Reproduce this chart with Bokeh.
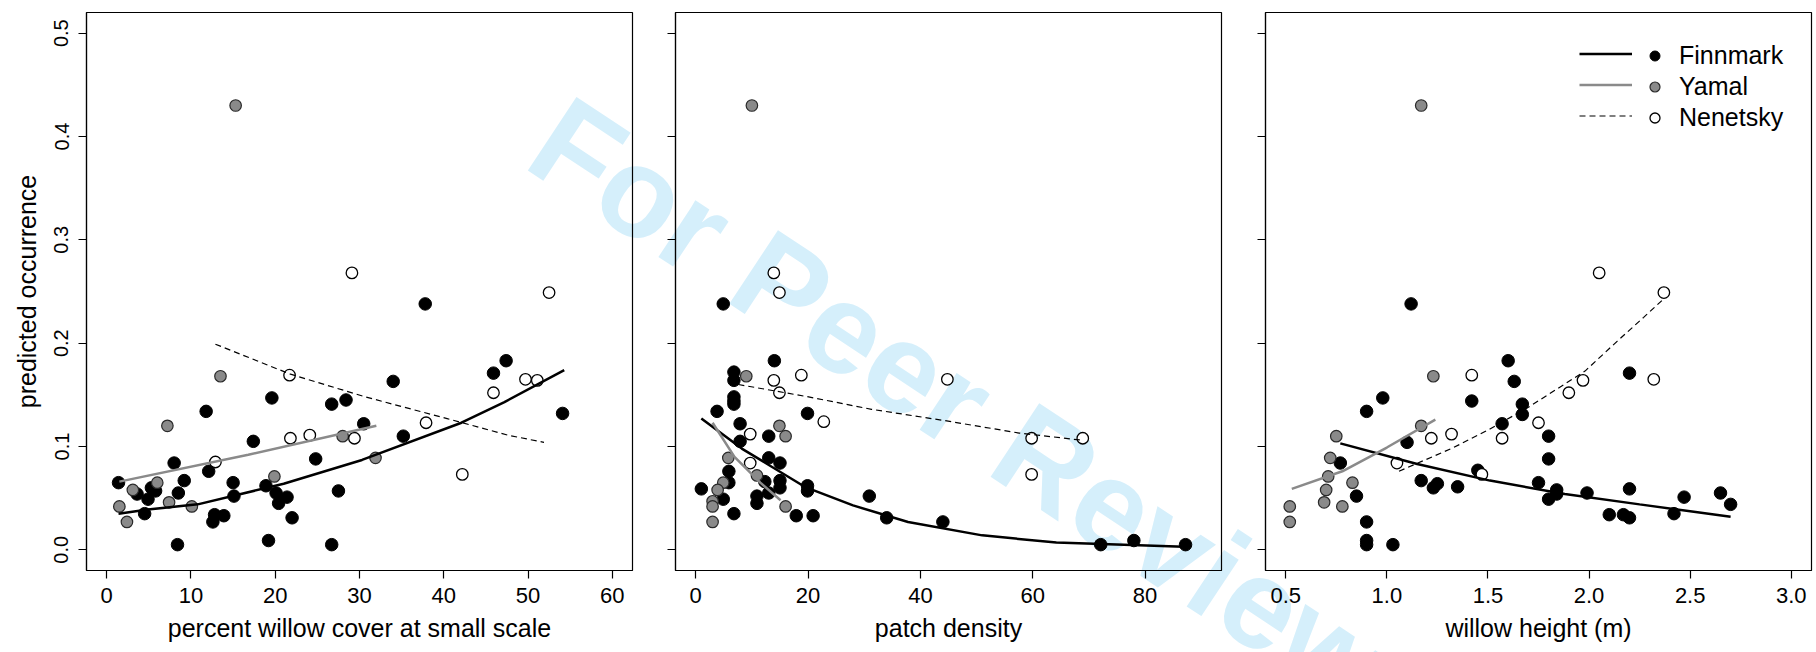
from bokeh.plotting import figure
from bokeh.models import Range1d, FixedTicker, NumeralTickFormatter, Legend, LegendItem, Div
from bokeh.layouts import row
from bokeh.embed import file_html
from bokeh.resources import INLINE

# ---------------- data ----------------
# panel 1: percent willow cover at small scale
fin_cover = [37.8, 47.4, 45.9, 34.0, 19.6, 26.7, 28.4, 11.8, 54.1, 30.5, 35.2, 17.4, 24.8, 8.0, 12.1, 1.4,
             9.2, 15.0, 5.3, 5.8, 3.6, 4.9, 8.5, 15.1, 18.9, 20.1, 21.4, 20.4, 27.5, 4.5, 12.8, 13.9, 12.6,
             22.0, 8.4, 19.2, 26.7]
fin_cover_occ = [0.238, 0.183, 0.171, 0.163, 0.147, 0.141, 0.145, 0.134, 0.132, 0.122, 0.110, 0.105, 0.088,
                 0.084, 0.076, 0.065, 0.067, 0.065, 0.060, 0.057, 0.054, 0.049, 0.055, 0.052, 0.062, 0.055,
                 0.051, 0.045, 0.057, 0.035, 0.034, 0.033, 0.027, 0.031, 0.005, 0.009, 0.005]
yam_cover = [15.3, 13.5, 7.2, 28.0, 31.9, 19.9, 6.0, 3.1, 7.4, 1.5, 10.1, 2.4]
yam_cover_occ = [0.430, 0.168, 0.120, 0.110, 0.089, 0.071, 0.065, 0.058, 0.046, 0.042, 0.042, 0.027]
nen_cover = [29.1, 52.5, 21.7, 49.7, 51.1, 45.9, 37.9, 24.1, 21.8, 29.4, 12.9, 42.2]
nen_cover_occ = [0.268, 0.249, 0.169, 0.165, 0.164, 0.152, 0.123, 0.111, 0.108, 0.108, 0.085, 0.073]

fin_cover_fit_x = [1.4, 4.9, 10.8, 21.0, 30.3, 42.1, 47.2, 54.3]
fin_cover_fit_y = [0.035, 0.039, 0.044, 0.064, 0.087, 0.123, 0.143, 0.174]
yam_cover_fit_x = [1.5, 16.8, 32.0]
yam_cover_fit_y = [0.066, 0.092, 0.120]
nen_cover_fit_x = [12.9, 21.8, 30.7, 40.4, 47.6, 51.9]
nen_cover_fit_y = [0.199, 0.170, 0.148, 0.127, 0.111, 0.104]

# panel 2: patch density
fin_dens = [4.9, 14.0, 6.8, 6.8, 6.8, 6.8, 6.8, 3.8, 19.9, 7.9, 13.0, 7.9, 13.0, 15.0, 5.9, 15.0, 1.0, 5.9,
            12.3, 15.0, 19.9, 19.9, 4.9, 10.9, 10.9, 13.0, 30.9, 6.8, 17.9, 20.9, 34.0, 44.0, 72.1, 78.0, 87.2]
fin_dens_occ = [0.238, 0.183, 0.172, 0.164, 0.148, 0.144, 0.141, 0.134, 0.132, 0.122, 0.110, 0.105, 0.089,
                0.084, 0.076, 0.067, 0.059, 0.065, 0.066, 0.060, 0.062, 0.057, 0.049, 0.052, 0.045, 0.055,
                0.052, 0.035, 0.033, 0.033, 0.031, 0.027, 0.005, 0.009, 0.005]
yam_dens = [10.0, 9.0, 14.9, 16.0, 5.8, 10.9, 4.9, 3.9, 3.0, 3.0, 16.0, 3.0]
yam_dens_occ = [0.430, 0.168, 0.120, 0.110, 0.089, 0.072, 0.065, 0.058, 0.047, 0.042, 0.042, 0.027]
nen_dens = [13.9, 14.9, 18.8, 44.8, 13.9, 14.9, 22.8, 9.7, 59.8, 68.9, 9.7, 59.8]
nen_dens_occ = [0.268, 0.249, 0.169, 0.165, 0.164, 0.152, 0.124, 0.112, 0.108, 0.108, 0.084, 0.073]

fin_dens_fit_x = [1.0, 8.2, 19.4, 28.0, 37.8, 51.0, 64.2, 86.9]
fin_dens_fit_y = [0.127, 0.098, 0.061, 0.043, 0.027, 0.014, 0.007, 0.003]
yam_dens_fit_x = [3.0, 6.9, 11.5, 15.1]
yam_dens_fit_y = [0.123, 0.090, 0.065, 0.048]
nen_dens_fit_x = [7.6, 20.1, 31.3, 44.4, 57.6, 68.9]
nen_dens_fit_y = [0.160, 0.148, 0.136, 0.125, 0.113, 0.106]

# panel 3: willow height (m)
fin_height = [1.12, 1.60, 2.20, 1.63, 0.98, 1.42, 0.90, 1.67, 1.67, 1.57, 1.80, 1.10, 1.80, 0.77, 1.45, 1.17,
              1.23, 1.25, 1.35, 1.75, 1.84, 1.84, 1.80, 1.99, 2.20, 2.47, 2.65, 2.70, 0.85, 2.10, 2.17, 2.20,
              2.42, 0.90, 0.90, 0.90, 1.03]
fin_height_occ = [0.238, 0.183, 0.171, 0.163, 0.147, 0.144, 0.134, 0.141, 0.131, 0.122, 0.110, 0.104, 0.088,
                  0.084, 0.077, 0.067, 0.060, 0.064, 0.061, 0.065, 0.058, 0.054, 0.049, 0.055, 0.059, 0.051,
                  0.055, 0.044, 0.052, 0.034, 0.034, 0.031, 0.035, 0.027, 0.009, 0.005, 0.005]
yam_height = [1.17, 1.23, 1.17, 0.75, 0.72, 0.71, 0.83, 0.70, 0.69, 0.52, 0.78, 0.52]
yam_height_occ = [0.430, 0.168, 0.120, 0.110, 0.089, 0.071, 0.065, 0.058, 0.046, 0.042, 0.042, 0.027]
nen_height = [2.05, 2.37, 1.42, 2.32, 1.97, 1.90, 1.75, 1.32, 1.22, 1.57, 1.05, 1.47]
nen_height_occ = [0.268, 0.249, 0.169, 0.165, 0.164, 0.152, 0.123, 0.112, 0.108, 0.108, 0.084, 0.073]

fin_height_fit_x = [0.77, 1.15, 1.51, 1.88, 2.25, 2.70]
fin_height_fit_y = [0.103, 0.083, 0.067, 0.054, 0.044, 0.032]
yam_height_fit_x = [0.53, 0.78, 1.00, 1.24]
yam_height_fit_y = [0.059, 0.076, 0.099, 0.126]
nen_height_fit_x = [1.06, 1.33, 1.51, 1.70, 1.98, 2.14, 2.27, 2.37]
nen_height_fit_y = [0.076, 0.099, 0.117, 0.138, 0.173, 0.202, 0.225, 0.243]

region_names = ["Finnmark", "Yamal", "Nenetsky"]
y_ticks = [0.0, 0.1, 0.2, 0.3, 0.4, 0.5]
x_ticks_cover = [0, 10, 20, 30, 40, 50, 60]
x_ticks_dens = [0, 20, 40, 60, 80]
x_ticks_height = [0.5, 1.0, 1.5, 2.0, 2.5, 3.0]
y_title = "predicted occurrence"
x_titles = ["percent willow cover at small scale", "patch density", "willow height (m)"]
watermark = "For Peer Review"

# ---------------- styling ----------------
FONT = "Liberation Sans"
GRAY = "#8a8a8a"
WM_COLOR = "#d5effb"
FRAME_W = 546
FRAME_H = 558
FRAME_TOP = 12


def make_panel(xr, xticks, xfmt, xlabel, bl, br, first):
    p = figure(frame_width=FRAME_W, frame_height=FRAME_H,
               x_range=Range1d(*xr), y_range=Range1d(-0.02, 0.52),
               output_backend="svg", toolbar_location=None,
               min_border_left=bl, min_border_right=br, min_border_top=FRAME_TOP, min_border_bottom=82)
    p.xgrid.visible = False
    p.ygrid.visible = False
    p.outline_line_color = "black"
    p.outline_line_width = 1.2
    # transparent fills so that the page-level watermark shows through underneath
    p.background_fill_color = None
    p.border_fill_color = None
    for ax in (p.xaxis[0], p.yaxis[0]):
        ax.axis_line_color = "black"
        ax.axis_line_width = 1.2
        ax.major_tick_line_width = 1.2
        ax.major_tick_out = 8
        ax.major_tick_in = 0
        ax.minor_tick_line_color = None
        ax.major_label_text_font = FONT
        ax.major_label_text_color = "black"
        ax.axis_label_text_font = FONT
        ax.axis_label_text_font_size = "25px"
        ax.axis_label_text_font_style = "normal"
        ax.axis_label_text_color = "black"
    p.xaxis.ticker = FixedTicker(ticks=xticks)
    p.xaxis.formatter = NumeralTickFormatter(format=xfmt)
    p.xaxis.major_label_text_font_size = "22px"
    p.xaxis.axis_label = xlabel
    p.xaxis.major_label_standoff = 9
    p.xaxis.axis_label_standoff = 8
    p.yaxis.ticker = FixedTicker(ticks=y_ticks)
    p.yaxis.major_label_text_font_size = "20px"
    if first:
        p.yaxis.formatter = NumeralTickFormatter(format="0.0")
        p.yaxis.major_label_orientation = "vertical"
        p.yaxis.major_label_standoff = 10
        p.yaxis.axis_label = y_title
        p.yaxis.axis_label_standoff = 11
    else:
        p.yaxis.major_label_overrides = {t: "" for t in y_ticks}
    return p


def draw(p, fx, fy, yx, yy, nx, ny, ffx, ffy, yfx, yfy, nfx, nfy):
    rf = p.scatter(fx, fy, size=12.5, fill_color="black", line_color="black", line_width=1)
    ry = p.scatter(yx, yy, size=11.5, fill_color=GRAY, line_color="#2a2a2a", line_width=1.2)
    rn = p.scatter(nx, ny, size=11.5, fill_color="white", line_color="black", line_width=1.3)
    lf = p.line(ffx, ffy, line_color="black", line_width=2.5)
    ly = p.line(yfx, yfy, line_color=GRAY, line_width=2.5)
    ln = p.line(nfx, nfy, line_color="black", line_width=1.2, line_dash="6 4")
    return (rf, ry, rn), (lf, ly, ln)


p1 = make_panel((-2.4, 62.4), x_ticks_cover, "0", x_titles[0], 86, 3, True)
p2 = make_panel((-3.6, 93.6), x_ticks_dens, "0", x_titles[1], 40, 3, False)
p3 = make_panel((0.4, 3.1), x_ticks_height, "0.0", x_titles[2], 41, 3, False)

draw(p1, fin_cover, fin_cover_occ, yam_cover, yam_cover_occ, nen_cover, nen_cover_occ,
     fin_cover_fit_x, fin_cover_fit_y, yam_cover_fit_x, yam_cover_fit_y, nen_cover_fit_x, nen_cover_fit_y)
draw(p2, fin_dens, fin_dens_occ, yam_dens, yam_dens_occ, nen_dens, nen_dens_occ,
     fin_dens_fit_x, fin_dens_fit_y, yam_dens_fit_x, yam_dens_fit_y, nen_dens_fit_x, nen_dens_fit_y)
pts3, lines3 = draw(p3, fin_height, fin_height_occ, yam_height, yam_height_occ, nen_height, nen_height_occ,
                    fin_height_fit_x, fin_height_fit_y, yam_height_fit_x, yam_height_fit_y,
                    nen_height_fit_x, nen_height_fit_y)

leg_lines = Legend(items=[LegendItem(label=" ", renderers=[r]) for r in lines3],
                   location=(314, 439), orientation="vertical",
                   glyph_width=53, glyph_height=31, label_height=31, label_width=1,
                   spacing=0, padding=0, margin=0, label_standoff=0,
                   label_text_font_size="1px", border_line_color=None,
                   background_fill_alpha=0)
leg_pts = Legend(items=[LegendItem(label=n, renderers=[r]) for n, r in zip(region_names, pts3)],
                 location=(377, 437), orientation="vertical",
                 glyph_width=25, glyph_height=31, label_height=31,
                 spacing=0, padding=0, margin=0, label_standoff=12,
                 label_text_font=FONT, label_text_font_size="25px", label_text_color="black",
                 border_line_color=None, background_fill_alpha=0)
p3.add_layout(leg_lines)
p3.add_layout(leg_pts)

# page-level watermark behind the (transparent) figures
wm_html = (
    '<div style="position:absolute; left:539.8px; top:60.1px; white-space:nowrap; '
    'transform-origin:0 50%; transform:rotate(33.5deg); '
    "font-family:'Liberation Sans'; font-weight:bold; font-size:128px; line-height:128px; "
    'color:' + WM_COLOR + ';">' + watermark + '</div>'
)
wm = Div(text=wm_html, width=1816, height=652,
         styles={"position": "absolute", "left": "0px", "top": "0px", "z-index": "-1",
                 "overflow": "hidden", "pointer-events": "none"})

layout = row(wm, p1, p2, p3)
open("out.html", "w").write(file_html(layout, INLINE))
